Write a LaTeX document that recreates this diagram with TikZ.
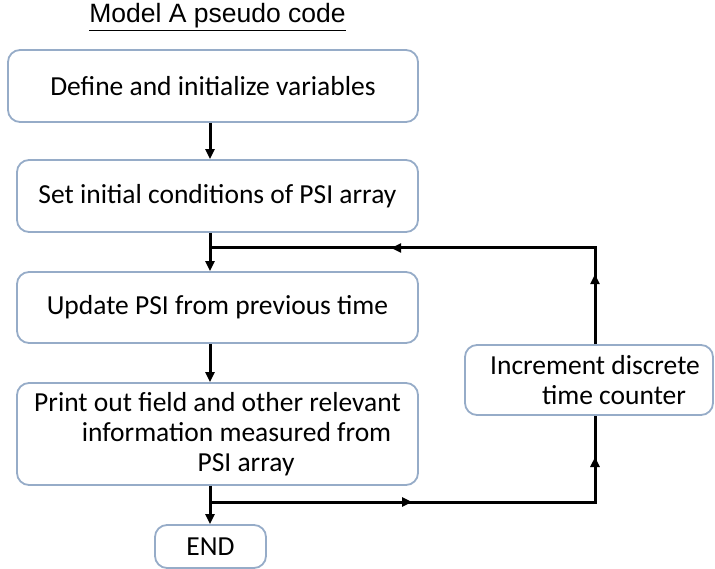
\documentclass[tikz,border=0pt]{standalone}
\usepackage{fontspec}
\setmainfont{Carlito}
\newfontfamily\titlefont{Liberation Sans}
\usetikzlibrary{arrows.meta,decorations.markings}
\definecolor{boxblue}{RGB}{150,172,200}
\tikzset{
  stepbox/.style={draw=boxblue,line width=1.8pt,rounded corners=12pt,fill=white,
    align=center,font=\fontsize{27.5}{30}\selectfont},
  wire/.style={line width=3pt},
  flow/.style={wire,-{Triangle[length=10pt,width=9pt]}},
  midtips/.style 2 args={postaction={decorate},decoration={markings,
    mark=at position #1 with {\arrow{Triangle[length=10pt,width=9pt]}},
    mark=at position #2 with {\arrow{Triangle[length=10pt,width=9pt]}}}},
}
\begin{document}
\begin{tikzpicture}[x=1pt,y=-1pt]
        \useasboundingbox (0,0) rectangle (715,569);
        %% title
        \node[font=\titlefont\fontsize{26.5}{30}\selectfont] (title) at (217.5,17) {\underline{Model A pseudo code}};
        %% steps
        \node[stepbox,minimum width=410,minimum height=72] (define) at (213,86) {Define and initialize variables};
        \node[stepbox,minimum width=401,minimum height=72] (setic) at (217.5,196) {Set initial conditions of PSI array};
        \node[stepbox,minimum width=401,minimum height=71] (update) at (217.5,307.5) {Update PSI from previous time};
        \node[stepbox,minimum width=401,minimum height=102] (print) at (217.5,434) {Print out field and other relevant\\ \hspace*{38pt}information measured from\\ \hspace*{57pt}PSI array};
        \node[stepbox,minimum width=111,minimum height=43] (stop) at (210.5,546.5) {END};
        \node[stepbox,minimum width=248,minimum height=70] (incr) at (589,380) {\hspace*{12pt}Increment discrete\\ \hspace*{50pt}time counter};
        %% junctions
        \coordinate (spine) at (210,0);
        \coordinate (jtop) at (210,248);
        \coordinate (jbot) at (210,502);
        \coordinate (rtop) at (595,248);
        \coordinate (rbot) at (595,502);
        %% main flow
        \draw[flow] (define.south -| spine) -- (setic.north -| spine);
        \draw[flow] (setic.south -| spine) -- (update.north -| spine);
        \draw[flow] (update.south -| spine) -- (print.north -| spine);
        \draw[flow] (print.south -| spine) -- (stop.north -| spine);
        %% time loop
        \draw[wire,midtips={202pt}{430pt}] (jbot) -- (rbot) -- (incr.south -| rbot);
        \draw[wire,midtips={70pt}{300pt}] (incr.north -| rtop) -- (rtop) -- (jtop);
\end{tikzpicture}
\end{document}
